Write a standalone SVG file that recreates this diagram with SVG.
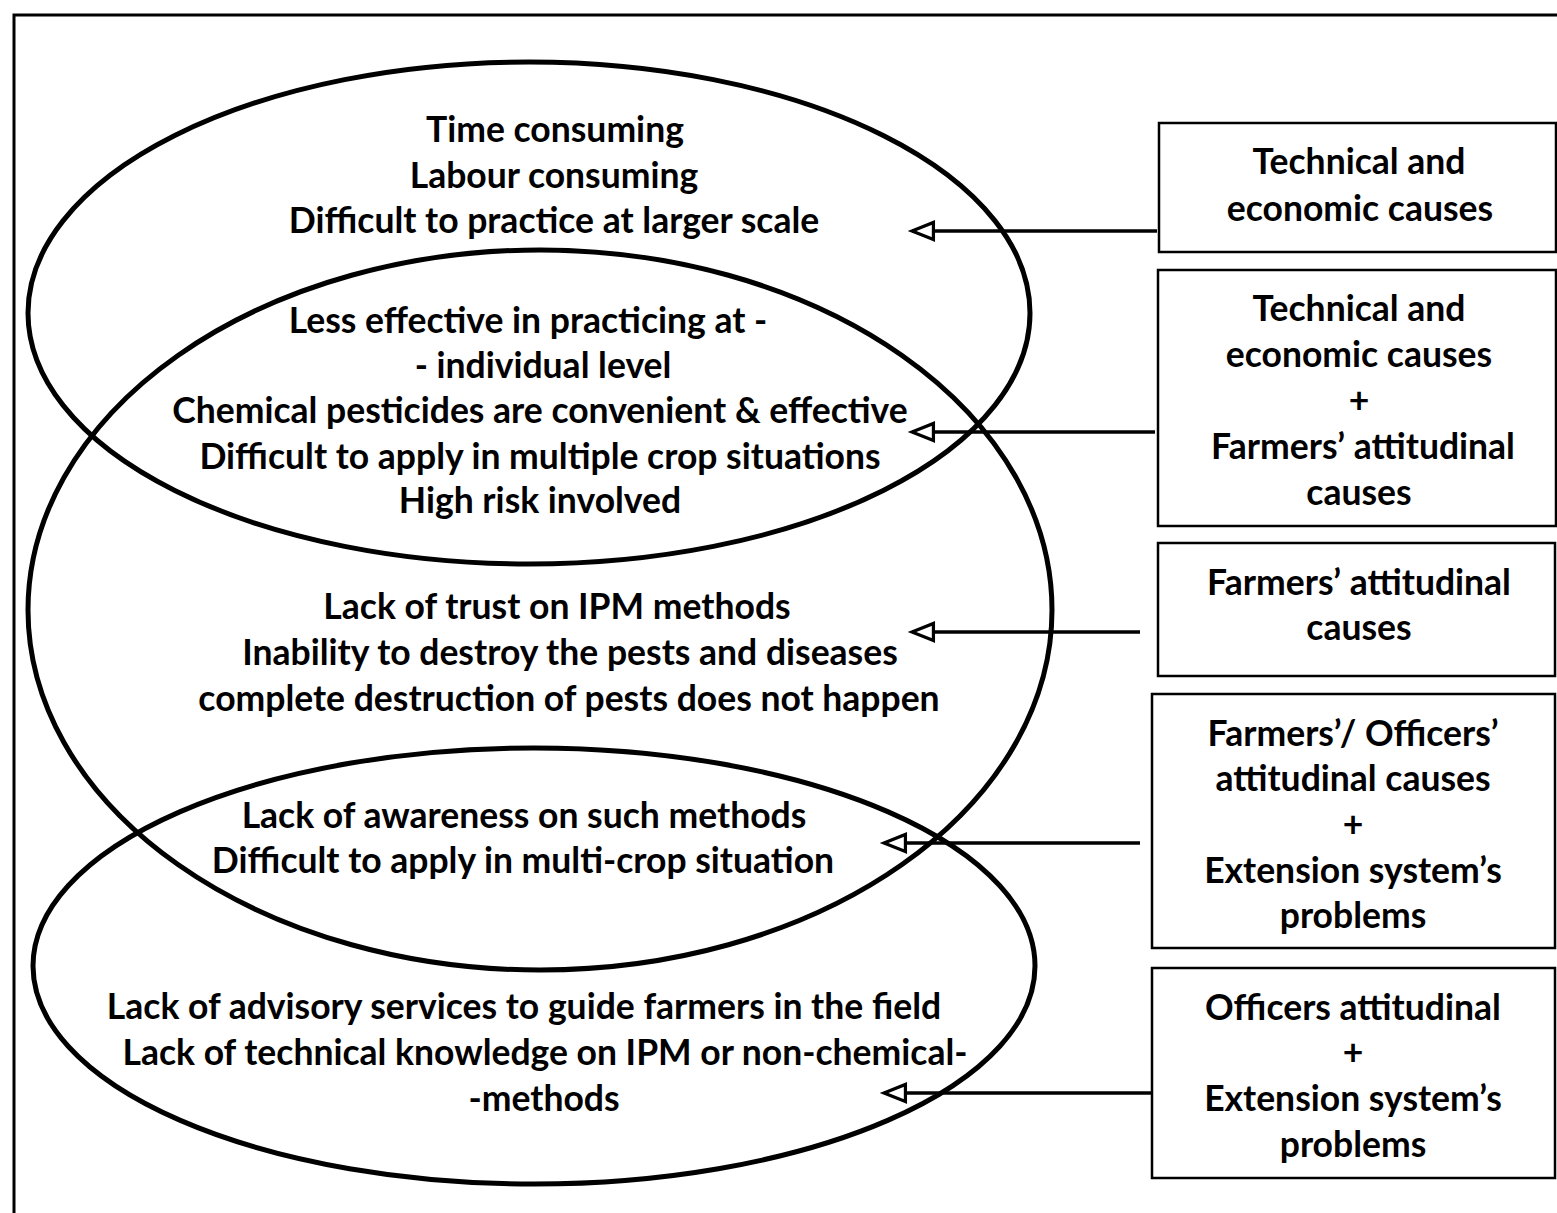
<svg xmlns="http://www.w3.org/2000/svg" width="1557" height="1213" viewBox="0 0 1557 1213">
<defs>
<style>
.t{font-family:Lato,"Noto Sans","Liberation Sans",sans-serif;font-size:35.5px;font-weight:bold;fill:#000;text-anchor:middle}
.ell{fill:none;stroke:#000;stroke-width:5}
.box{fill:#fff;stroke:#000;stroke-width:2.5}
.conn{fill:none;stroke:#000;stroke-width:3.5}
.frame{fill:none;stroke:#000;stroke-width:3}
</style>
<marker id="ah" markerUnits="userSpaceOnUse" markerWidth="30" markerHeight="30" viewBox="-3 -12 28 24" refX="20" refY="0" orient="auto">
<path d="M0,-8 L20,0 L0,8 Z" fill="#fff" stroke="#000" stroke-width="3" stroke-linejoin="miter"/>
</marker>
</defs>
<rect width="1557" height="1213" fill="#fff"/>
<path class="frame" d="M14,1213 L14,15 L1557,15"/>

<g id="ellipse-top">
<ellipse class="ell" cx="529" cy="313" rx="501" ry="251"/>
</g>
<g id="ellipse-middle">
<ellipse class="ell" cx="540" cy="610" rx="512" ry="360"/>
</g>
<g id="ellipse-bottom">
<ellipse class="ell" cx="534" cy="966" rx="501" ry="218"/>
</g>

<g id="text-top">
<text class="t" x="555" y="142">Time consuming</text>
<text class="t" x="554" y="188">Labour consuming</text>
<text class="t" x="554" y="233">Difficult to practice at larger scale</text>
</g>
<g id="text-overlap-1">
<text class="t" x="528" y="333">Less effective in practicing at -</text>
<text class="t" x="543" y="378">- individual level</text>
<text class="t" x="540" y="423">Chemical pesticides are convenient &amp; effective</text>
<text class="t" x="540" y="469">Difficult to apply in multiple crop situations</text>
<text class="t" x="540" y="513">High risk involved</text>
</g>
<g id="text-middle">
<text class="t" x="557" y="619">Lack of trust on IPM methods</text>
<text class="t" x="570" y="665">Inability to destroy the pests and diseases</text>
<text class="t" x="569" y="711">complete destruction of pests does not happen</text>
</g>
<g id="text-overlap-2">
<text class="t" x="524" y="828">Lack of awareness on such methods</text>
<text class="t" x="523" y="873">Difficult to apply in multi-crop situation</text>
</g>
<g id="text-bottom">
<text class="t" x="524" y="1019">Lack of advisory services to guide farmers in the field</text>
<text class="t" x="545" y="1065">Lack of technical knowledge on IPM or non-chemical-</text>
<text class="t" x="544" y="1111">-methods</text>
</g>

<g id="connectors">
<line class="conn" x1="1157" y1="231" x2="912" y2="231" marker-end="url(#ah)"/>
<line class="conn" x1="1155" y1="432" x2="912" y2="432" marker-end="url(#ah)"/>
<line class="conn" x1="1140" y1="632" x2="912" y2="632" marker-end="url(#ah)"/>
<line class="conn" x1="1140" y1="843" x2="884" y2="843" marker-end="url(#ah)"/>
<line class="conn" x1="1152" y1="1093" x2="884" y2="1093" marker-end="url(#ah)"/>
</g>

<g id="box-1">
<rect class="box" x="1159" y="123" width="397" height="129"/>
<text class="t" x="1359" y="174">Technical and</text>
<text class="t" x="1360" y="221">economic causes</text>
</g>
<g id="box-2">
<rect class="box" x="1158" y="270" width="398" height="256"/>
<text class="t" x="1359" y="321">Technical and</text>
<text class="t" x="1359" y="367">economic causes</text>
<text class="t" x="1359" y="413">+</text>
<text class="t" x="1363" y="459">Farmers’ attitudinal</text>
<text class="t" x="1359" y="505">causes</text>
</g>
<g id="box-3">
<rect class="box" x="1158" y="543" width="397" height="133"/>
<text class="t" x="1359" y="595">Farmers’ attitudinal</text>
<text class="t" x="1359" y="640">causes</text>
</g>
<g id="box-4">
<rect class="box" x="1152" y="694" width="403" height="254"/>
<text class="t" x="1353" y="746">Farmers’/ Officers’</text>
<text class="t" x="1353" y="791">attitudinal causes</text>
<text class="t" x="1353" y="837">+</text>
<text class="t" x="1353" y="883">Extension system’s</text>
<text class="t" x="1353" y="928">problems</text>
</g>
<g id="box-5">
<rect class="box" x="1152" y="968" width="403" height="210"/>
<text class="t" x="1353" y="1020">Officers attitudinal</text>
<text class="t" x="1353" y="1065">+</text>
<text class="t" x="1353" y="1111">Extension system’s</text>
<text class="t" x="1353" y="1157">problems</text>
</g>
</svg>
